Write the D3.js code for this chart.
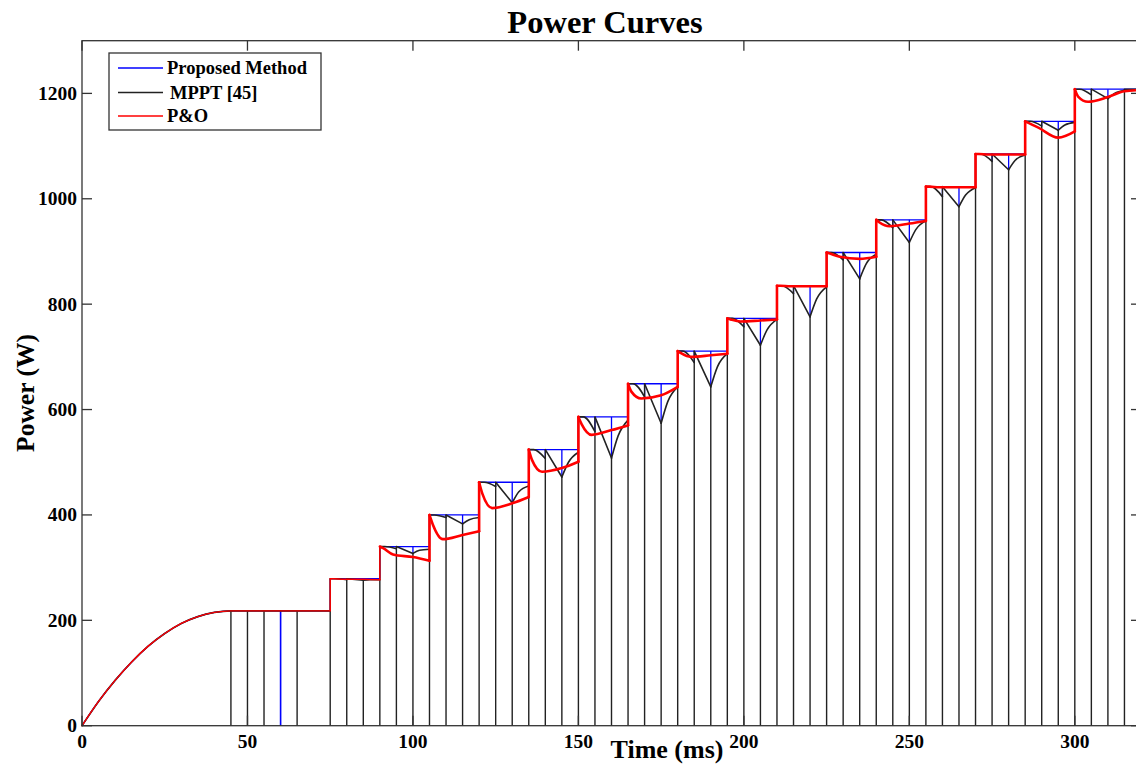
<!DOCTYPE html>
<html>
<head>
<meta charset="utf-8">
<script src="https://cdn.jsdelivr.net/npm/d3@7"></script>
<style>
  html, body { margin: 0; padding: 0; background: #fff; }
  svg { display: block; }
  text { font-family: "Liberation Serif", "Times New Roman", serif; font-weight: bold; fill: #000; }
</style>
</head>
<body>
<svg id="chart" width="1136" height="765"></svg>
<script>
// ---------- data ----------
// start-up: output power rising from zero to the first operating point
const riseTime  = [0, 5, 10, 15, 20, 25, 30, 35, 40, 45];
const riseValue = [0, 46, 86, 121, 151, 175, 194, 207, 215, 218];
const plateauEnd = 75;
const plateauValue = 218;

// irradiance steps: start time (ms) and maximum power level (W)
const stepStart = [75, 90, 105, 120, 135, 150, 165, 180, 195, 210, 225, 240, 255, 270, 285, 300];
const stepLevel = [279, 340, 400, 462, 524, 586, 649, 711, 773, 835, 898, 960, 1023, 1085, 1147, 1208];
const lastTime = 322;

// MPPT [45]: power drop below the level at +5 ms, +10 ms, +12 ms and +15 ms into each step
const mpptDipA = [2, 4, 5, 8, 17, 28, 25, 22, 16, 15, 14, 15, 19, 14, 9, 11];
const mpptDipB = [3, 13, 17, 39, 52, 78, 75, 68, 51, 59, 50, 43, 38, 30, 17, 18];
const mpptDipR = [2, 7, 9, 18, 24, 36, 34, 30, 22, 25, 21, 18, 16, 12, 7, 8];
const mpptDipC = [2, 5, 5, 7, 5, 6, 6, 5, 2, 2, 3, 2, 2, 2, 2, 2];
// instants where the MPPT [45] output collapses to zero
const mpptDropTimes = [45, 50, 55, 65, 75, 80, 85, 90, 95, 100, 105, 110, 115, 120, 125, 130,
  135, 140, 145, 150, 155, 160, 165, 170, 175, 180, 185, 190, 195, 200, 205, 210, 215, 220,
  225, 230, 235, 240, 245, 250, 255, 260, 265, 270, 275, 280, 285, 290, 295, 300, 305, 310, 315];

// proposed method: instants where its output collapses to zero
const proposedDropTimes = [60];

// P&O: power drop below the level at +1, +4, +10 and +15 ms into each step
const poDip1  = [0, 3, 18, 22, 20, 14, 15, 4, 2, 0, 2, 5, 0, 0, 3, 14];
const poDip4  = [1, 15, 46, 49, 42, 34, 28, 11, 6, 1, 8, 12, 1, 1, 12, 24];
const poDip10 = [1, 20, 38, 40, 35, 25, 22, 8, 4, 1, 12, 7, 1, 1, 31, 15];
const poDip15 = [2, 27, 31, 28, 23, 16, 6, 5, 2, 1, 8, 2, 1, 1, 19, 4];

const xTicks = [0, 50, 100, 150, 200, 250, 300];
const yTicks = [0, 200, 400, 600, 800, 1000, 1200];
const seriesNames  = ["Proposed Method", "MPPT [45]", "P&O"];
const seriesColors = ["#0000ff", "#222222", "#ff0000"];

// ---------- scales ----------
const svg = d3.select("#chart");
const x = d3.scaleLinear().domain([0, 320]).range([82, 1141]);
const y = d3.scaleLinear().domain([0, 1300]).range([725.7, 40.7]);

const line = d3.line().x(d => x(d[0])).y(d => y(d[1])).curve(d3.curveMonotoneX);

const risePiece = riseTime.map((t, i) => [t, riseValue[i]]).concat([[plateauEnd, plateauValue]]);

// ---------- proposed method ----------
const bluePieces = [risePiece, [[60, 0], [60, plateauValue]]];
stepStart.forEach((t0, k) => {
  const P = stepLevel[k];
  const prev = k === 0 ? plateauValue : stepLevel[k - 1];
  const end = k === stepStart.length - 1 ? lastTime : t0 + 15;
  bluePieces.push([[t0, prev], [t0, P]]);
  bluePieces.push([[t0, P], [end, P]]);
  bluePieces.push([[t0 + 5, P], [t0 + 5, P - mpptDipA[k]]]);
  bluePieces.push([[t0 + 10, P], [t0 + 10, P - mpptDipB[k]]]);
});

// ---------- MPPT [45] ----------
const blackPieces = [risePiece];
stepStart.forEach((t0, k) => {
  const P = stepLevel[k];
  blackPieces.push([[t0, P], [t0 + 1.5, P], [t0 + 5, P - mpptDipA[k]]]);
  blackPieces.push([[t0 + 5, P], [t0 + 10, P - mpptDipB[k]]]);
  blackPieces.push([[t0 + 10, P - mpptDipB[k]], [t0 + 12, P - mpptDipR[k]], [t0 + 15, P - mpptDipC[k]]]);
  if (k === stepStart.length - 1) blackPieces.push([[t0 + 15, P], [lastTime, P]]);
});
function mpptTop(t) {
  if (t < stepStart[0]) return plateauValue;
  let k = stepStart.length - 1;
  while (k > 0 && stepStart[k] > t) k--;
  const off = t - stepStart[k];
  if (off === 10) return stepLevel[k] - mpptDipB[k];
  return stepLevel[k];
}

// ---------- P&O ----------
const redPieces = [{ pts: risePiece, thin: true }, { pts: [[75, plateauValue], [75, stepLevel[0]]], thin: true }];
stepStart.forEach((t0, k) => {
  const P = stepLevel[k];
  const thin = t0 < 90;
  const pts = [[t0, P], [t0 + 1, P - poDip1[k]], [t0 + 4, P - poDip4[k]],
               [t0 + 10, P - poDip10[k]], [t0 + 15, P - poDip15[k]]];
  if (k === stepStart.length - 1) pts.push([lastTime, P - 1]);
  redPieces.push({ pts, thin });
  if (k < stepStart.length - 1) {
    redPieces.push({ pts: [[t0 + 15, P - poDip15[k]], [t0 + 15, stepLevel[k + 1]]], thin });
  }
});

// ---------- drawing ----------
const plot = svg.append("g");

plot.append("g").selectAll("path").data(bluePieces).join("path")
  .attr("d", line).attr("fill", "none").attr("stroke", seriesColors[0])
  .attr("stroke-width", 1.3);

plot.append("g").selectAll("line").data(mpptDropTimes).join("line")
  .attr("x1", d => x(d)).attr("x2", d => x(d))
  .attr("y1", y(0)).attr("y2", d => y(mpptTop(d)))
  .attr("stroke", seriesColors[1]).attr("stroke-width", 1.4);

plot.append("g").selectAll("line").data(proposedDropTimes).join("line")
  .attr("x1", d => x(d)).attr("x2", d => x(d))
  .attr("y1", y(0)).attr("y2", y(plateauValue))
  .attr("stroke", seriesColors[0]).attr("stroke-width", 1.4);

plot.append("g").selectAll("path").data(blackPieces).join("path")
  .attr("d", line).attr("fill", "none").attr("stroke", seriesColors[1])
  .attr("stroke-width", 1.6).attr("stroke-linecap", "round").attr("stroke-linejoin", "round");

plot.append("g").selectAll("path").data(redPieces).join("path")
  .attr("d", d => line(d.pts)).attr("fill", "none").attr("stroke", seriesColors[2])
  .attr("stroke-width", d => d.thin ? 1.4 : 2.6)
  .attr("stroke-linecap", "round").attr("stroke-linejoin", "round");

// ---------- frame and ticks ----------
const x0 = x(0), x1 = x(320), y0 = y(0), y1 = y(1300);
const frame = svg.append("g").attr("stroke", "#333").attr("stroke-width", 1.3);
frame.append("rect").attr("x", x0).attr("y", y1).attr("width", x1 - x0).attr("height", y0 - y1)
  .attr("fill", "none");
const tickLen = 10;
frame.selectAll(".yl").data(yTicks).join("line")
  .attr("x1", x0).attr("x2", x0 + tickLen).attr("y1", d => y(d)).attr("y2", d => y(d));
frame.selectAll(".yr").data(yTicks).join("line").attr("class", "yr")
  .attr("x1", x1).attr("x2", x1 - tickLen).attr("y1", d => y(d)).attr("y2", d => y(d));
frame.selectAll(".xb").data(xTicks).join("line").attr("class", "xb")
  .attr("x1", d => x(d)).attr("x2", d => x(d)).attr("y1", y0).attr("y2", y0 - tickLen);
frame.selectAll(".xt").data(xTicks).join("line").attr("class", "xt")
  .attr("x1", d => x(d)).attr("x2", d => x(d)).attr("y1", y1).attr("y2", y1 + tickLen);

svg.append("g").selectAll("text").data(xTicks).join("text")
  .attr("x", d => x(d)).attr("y", 748).attr("text-anchor", "middle")
  .attr("font-size", 19.5).text(d => d);
svg.append("g").selectAll("text").data(yTicks).join("text")
  .attr("x", 77).attr("y", d => y(d) + 6.5).attr("text-anchor", "end")
  .attr("font-size", 19.5).text(d => d);

// ---------- titles ----------
svg.append("text").attr("x", 605).attr("y", 33).attr("text-anchor", "middle")
  .attr("font-size", 32.5).text("Power Curves");
svg.append("text").attr("x", 667).attr("y", 758).attr("text-anchor", "middle")
  .attr("font-size", 26).text("Time (ms)");
svg.append("text").attr("transform", "translate(34,393) rotate(-90)").attr("text-anchor", "middle")
  .attr("font-size", 25.5).text("Power (W)");

// ---------- legend ----------
const legend = svg.append("g");
legend.append("rect").attr("x", 109).attr("y", 53).attr("width", 212).attr("height", 77)
  .attr("fill", "#fff").attr("stroke", "#333").attr("stroke-width", 1.3);
const legendRows = [68, 92.5, 116];
const legendTextX = [167, 170, 167];
seriesNames.forEach((name, i) => {
  legend.append("line").attr("x1", 118).attr("x2", 163)
    .attr("y1", legendRows[i]).attr("y2", legendRows[i])
    .attr("stroke", seriesColors[i]).attr("stroke-width", 1.3);
  legend.append("text").attr("x", legendTextX[i]).attr("y", legendRows[i] + 6)
    .attr("font-size", 18.5).text(name);
});
</script>
</body>
</html>
